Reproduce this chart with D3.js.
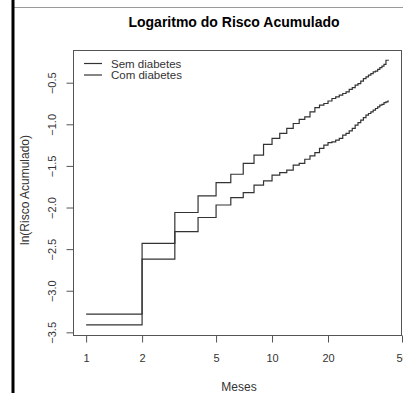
<!DOCTYPE html>
<html>
<head>
<meta charset="utf-8">
<script src="https://cdn.jsdelivr.net/npm/d3@7"></script>
<style>
  body { margin: 0; background: #fff; }
  svg { display: block; font-family: "Liberation Sans", Arial, sans-serif; }
</style>
</head>
<body>
<script>
// meses com eventos (step times)
var meses = [1, 2, 3, 4, 5, 6, 7, 8, 9, 10, 11, 12, 13, 14, 15, 16, 17, 18, 19, 20,
             21, 22, 23, 24, 25, 26, 27, 28, 29, 30, 31, 32, 33, 34, 35, 36, 37, 38, 39, 40, 41, 42];
var fimMeses = 42.5;

// ln(risco acumulado) - curva de cima
var curvaSem = [-3.28, -2.43, -2.06, -1.86, -1.70, -1.60, -1.47, -1.37, -1.24, -1.17,
                -1.11, -1.05, -0.99, -0.94, -0.91, -0.85, -0.80, -0.77, -0.75, -0.72,
                -0.69, -0.67, -0.65, -0.63, -0.61, -0.58, -0.56, -0.53, -0.51, -0.48,
                -0.45, -0.43, -0.41, -0.39, -0.37, -0.36, -0.34, -0.32, -0.30, -0.28,
                -0.23, -0.23];
// curva de baixo
var curvaCom = [-3.41, -2.62, -2.29, -2.12, -1.97, -1.88, -1.82, -1.73, -1.68, -1.61,
                -1.58, -1.55, -1.49, -1.47, -1.42, -1.38, -1.34, -1.29, -1.25, -1.22,
                -1.21, -1.19, -1.17, -1.13, -1.11, -1.08, -1.05, -1.01, -0.98, -0.95,
                -0.92, -0.89, -0.87, -0.85, -0.83, -0.81, -0.79, -0.77, -0.76, -0.74,
                -0.73, -0.72];

var xTicks = [1, 2, 5, 10, 20, 50];
var yTicks = [-3.5, -3.0, -2.5, -2.0, -1.5, -1.0, -0.5];
var legenda = ["Sem diabetes", "Com diabetes"];

var w = 403, h = 393;
var box = {left: 73, right: 402, top: 50, bottom: 335};

var svg = d3.select("body").append("svg")
    .attr("width", w)
    .attr("height", h);

// borda recortada da janela original
svg.append("line")
    .attr("x1", 14).attr("x2", w).attr("y1", 7.5).attr("y2", 7.5)
    .attr("stroke", "#9a9a9a").attr("stroke-width", 1);
svg.append("rect")
    .attr("x", 11.5).attr("y", 0).attr("width", 3).attr("height", h)
    .attr("fill", "#000");

var x = d3.scaleLog()
    .domain([0.85, 50])
    .range([box.left, box.right]);

var y = d3.scaleLinear()
    .domain([-3.532, -0.107])
    .range([box.bottom, box.top]);

// title
svg.append("text")
    .attr("x", 234)
    .attr("y", 27)
    .attr("text-anchor", "middle")
    .attr("font-weight", "bold")
    .attr("font-size", 14)
    .attr("fill", "#000")
    .text("Logaritmo do Risco Acumulado");

// box
svg.append("rect")
    .attr("x", box.left + 0.5)
    .attr("y", box.top + 0.5)
    .attr("width", box.right - box.left - 1)
    .attr("height", box.bottom - box.top)
    .attr("fill", "none")
    .attr("stroke", "#555");

// x axis
var gx = svg.append("g")
    .attr("transform", "translate(0," + (box.bottom + 0.5) + ")")
    .call(d3.axisBottom(x).tickValues(xTicks).tickFormat(d3.format("d")).tickSize(7).tickPadding(12));
gx.select(".domain").attr("stroke", "#555")
    .attr("d", "M" + x(1) + ",0H" + x(50));
gx.selectAll(".tick line").attr("stroke", "#555");
gx.selectAll(".tick text").attr("font-size", 11).attr("fill", "#333");

// y axis
var gy = svg.append("g")
    .attr("transform", "translate(" + (box.left + 0.5) + ",0)")
    .call(d3.axisLeft(y).tickValues(yTicks).tickFormat(d3.format(".1f")).tickSize(7));
gy.select(".domain").attr("stroke", "#555")
    .attr("d", "M0," + y(-3.5) + "V" + y(-0.5));
gy.selectAll(".tick line").attr("stroke", "#555");
gy.selectAll(".tick text")
    .attr("font-size", 11)
    .attr("fill", "#333")
    .attr("x", 0).attr("dy", null)
    .attr("text-anchor", "middle")
    .attr("transform", "translate(-17.5,0) rotate(-90)")
    .attr("y", 0);

// axis titles
svg.append("text")
    .attr("x", 239)
    .attr("y", 391)
    .attr("text-anchor", "middle")
    .attr("font-size", 12)
    .attr("fill", "#333")
    .text("Meses");

svg.append("text")
    .attr("transform", "translate(29,190) rotate(-90)")
    .attr("text-anchor", "middle")
    .attr("font-size", 12)
    .attr("fill", "#333")
    .text("ln(Risco Acumulado)");

// curvas em degraus
var line = d3.line()
    .x(function (d) { return x(d[0]); })
    .y(function (d) { return y(d[1]); })
    .curve(d3.curveStepAfter);

[curvaSem, curvaCom].forEach(function (serie) {
    var pts = meses.map(function (m, i) { return [m, serie[i]]; });
    pts.push([fimMeses, serie[serie.length - 1]]);
    svg.append("path")
        .datum(pts)
        .attr("fill", "none")
        .attr("stroke", "#333")
        .attr("stroke-width", 1.2)
        .attr("d", line);
});

// legend
legenda.forEach(function (lab, i) {
    var ly = 63.5 + i * 11.5;
    svg.append("line")
        .attr("x1", 84).attr("x2", 102)
        .attr("y1", ly).attr("y2", ly)
        .attr("stroke", "#333").attr("stroke-width", 1.2);
    svg.append("text")
        .attr("x", 111)
        .attr("y", ly + 4)
        .attr("font-size", 11.5)
        .attr("fill", "#333")
        .text(lab);
});
</script>
</body>
</html>
